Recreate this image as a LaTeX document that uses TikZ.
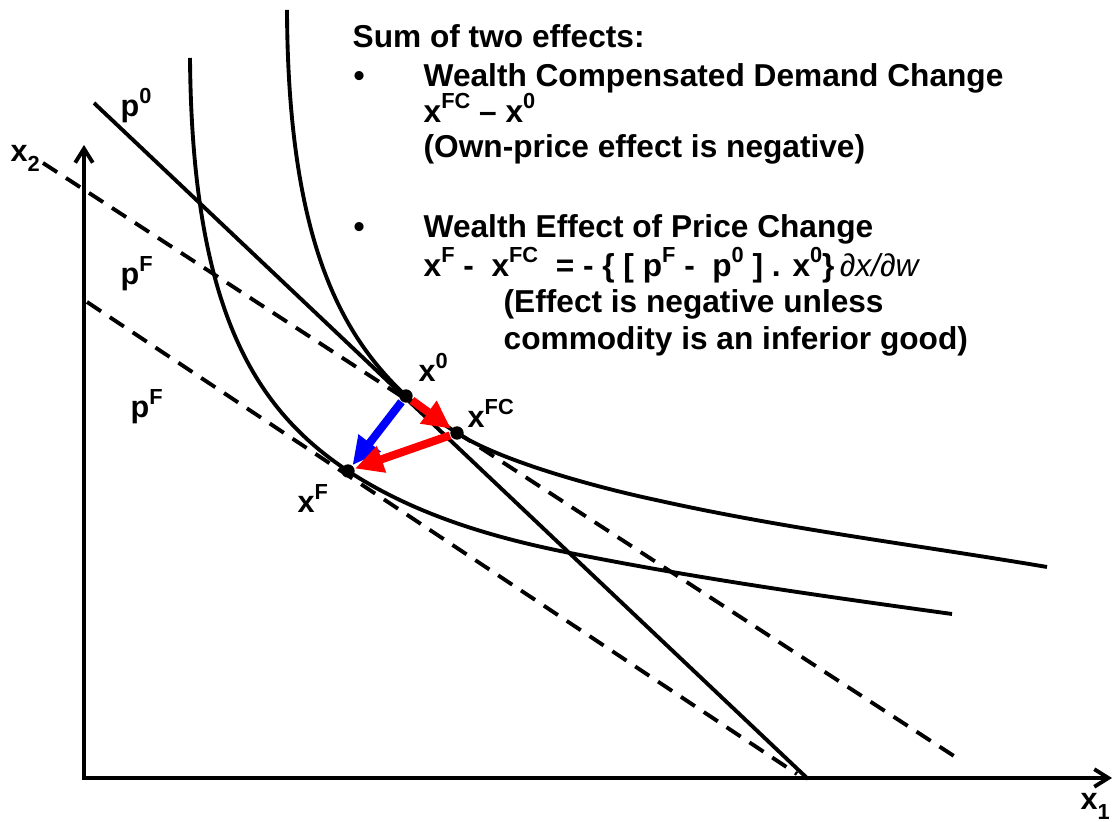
\documentclass[tikz,border=0pt]{standalone}
\usepackage{fontspec}
\setmainfont{Liberation Sans}
\usetikzlibrary{arrows.meta}
\newcommand{\supr}[1]{\raisebox{0.85ex}{\fontsize{6.2}{7}\selectfont #1}}
\newcommand{\subr}[1]{\raisebox{-0.6ex}{\fontsize{6.2}{7}\selectfont #1}}

\begin{document}
\begin{tikzpicture}[x=0.01cm,y=-0.01cm,
  curve/.style={line width=1.1pt},
  budget/.style={line width=1.1pt,dash pattern=on 4.8pt off 3pt},
  axis/.style={line width=1.1pt,{Straight Barb[length=4pt,width=5pt]}-{Straight Barb[length=4pt,width=5pt]}},
  dot/.style={circle,fill=black,inner sep=0pt,minimum size=3.8pt},
  lbl/.style={font=\fontsize{8.7}{10}\selectfont\bfseries,inner sep=0pt,anchor=base west},
  txt/.style={font=\fontsize{9}{10.5}\selectfont\bfseries,inner sep=0pt,anchor=base west},
  effect/.style={line width=2.3pt,-{Triangle[length=8pt,width=7.5pt]}}]
  \useasboundingbox (0,0) rectangle (1114,822);
  % axes
  \coordinate (O) at (84,778);
  \coordinate (ytop) at (84,145);
  \coordinate (xend) at (1112,778);
  \draw[axis] (ytop) -- (O) -- (xend);
  \node[lbl] (x2lbl) at (10,162) {x\subr{2}};
  \node[lbl] (x1lbl) at (1080,810) {x\subr{1}};
  % budget lines
  \coordinate (p0a) at (94,103);
  \coordinate (p0b) at (808,779);
  \coordinate (pFa) at (43,163);
  \coordinate (pFb) at (957,758);
  \coordinate (pLa) at (87,302);
  \coordinate (pLb) at (797,774);
  \draw[curve] (p0a) -- (p0b);
  \draw[budget] (pFa) -- (pFb);
  \draw[budget] (pLa) -- (pLb);
  \node[lbl] (p0lbl) at (120,117) {p\supr{0}};
  \node[lbl] (pFlbl) at (120,285) {p\supr{F}};
  \node[lbl] (pLlbl) at (130,418) {p\supr{F}};
  % bundles
  \node[dot] (x0) at (406,396) {};
  \node[dot] (xFC) at (457,433) {};
  \node[dot] (xF) at (348,471) {};
  % indifference curves
  \draw[curve] (287,10) .. controls (288,250) and (346,339) .. (x0.center)
     .. controls (421,410) and (442,423) .. (xFC.center)
     .. controls (497,459) and (586,485) .. (656,500)
     .. controls (786,529) and (917,545) .. (1047,567);
  \draw[curve] (190,58) .. controls (192,315) and (258,411) .. (xF.center)
     .. controls (418,517) and (500,539) .. (570,553)
     .. controls (700,579) and (822,596) .. (952,614);
  \node[lbl] (x0lbl) at (418,382) {x\supr{0}};
  \node[lbl] (xFClbl) at (467,428) {x\supr{FC}};
  \node[lbl] (xFlbl) at (297,513) {x\supr{F}};
  % decomposition
  \draw[effect,blue] (x0) -- (xF);
  \draw[effect,red] (x0) -- (xFC);
  \draw[effect,red] (xFC) -- (xF);
  % explanation
  \node[txt] (t1) at (352,48) {Sum of two effects:};
  \node[txt] (b1) at (353,87) {•};
  \node[txt] (t2) at (423,87) {Wealth Compensated Demand Change};
  \node[txt] (t3) at (423,123) {x\supr{FC} – x\supr{0}};
  \node[txt] (t4) at (423,158) {(Own-price effect is negative)};
  \node[txt] (b2) at (353,238) {•};
  \node[txt] (t5) at (423,238) {Wealth Effect of Price Change};
  \node[txt] (t6) at (423,277) {x\supr{F} -\ \ x\supr{FC}\ \ = - \{ [ p\supr{F} -\ \ p\supr{0} ] . x\supr{0}\}\,{\mdseries\itshape ∂x/∂w}};
  \node[txt] (t7) at (503,313) {(Effect is negative unless};
  \node[txt] (t8) at (503,350) {commodity is an inferior good)};
\end{tikzpicture}
\end{document}
